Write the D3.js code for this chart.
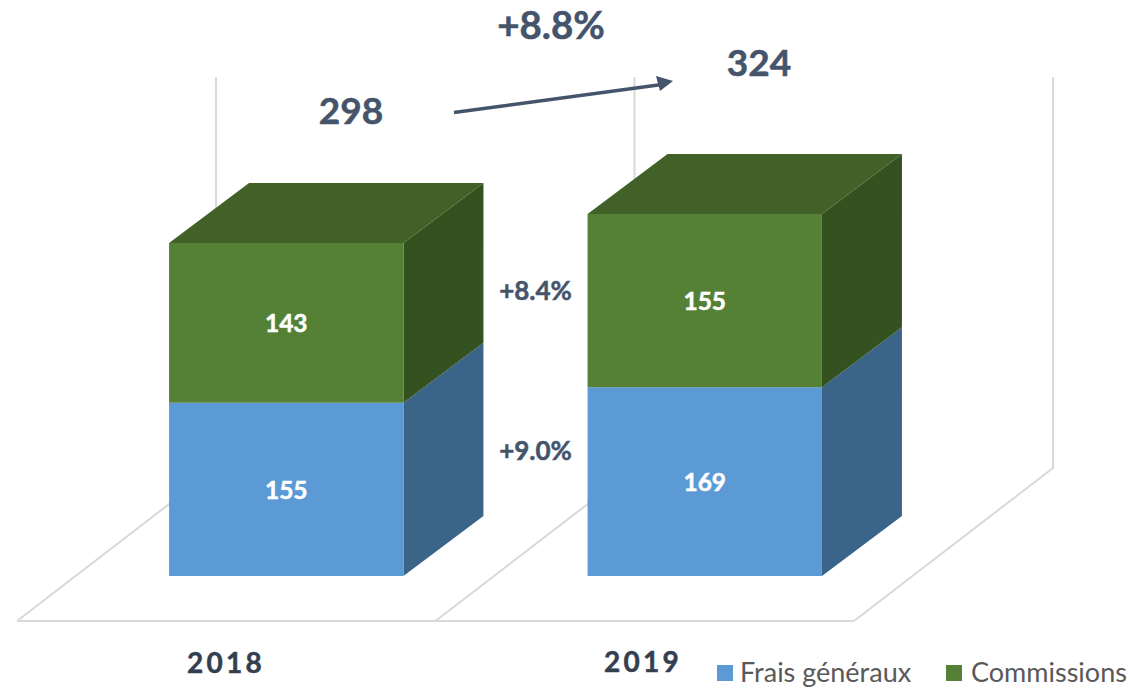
<!DOCTYPE html>
<html>
<head>
<meta charset="utf-8">
<script src="https://cdn.jsdelivr.net/npm/d3@7"></script>
<style>
  html, body { margin: 0; padding: 0; background: #fff; }
  text { font-family: Lato, "Open Sans", sans-serif; }
  .heavy { stroke-width: 0.5px; paint-order: stroke; }
</style>
</head>
<body>
<main></main>
<script>
const years = ["2018", "2019"],
  seriesNames = ["Frais généraux", "Commissions"],
  fraisGeneraux = [155, 169],
  commissions = [143, 155],
  totals = [298, 324],
  totalGrowth = "+8.8%",
  seriesGrowth = ["+9.0%", "+8.4%"];

const svgWidth = 1130,
  svgHeight = 688,
  depthX = 80,
  depthY = -60,
  wallDepthX = 199,
  wallDepthY = -153;

const blue = { front: "#5b9ad5", side: "#3a6488" },
  green = { front: "#548135", side: "#345120", top: "#426128" },
  navy = "#44546a",
  gridColor = "#d9d9d9";

// floor front edge goes from 17 to 854, bars stand 60px further back on the floor
const floorLeft = 17,
  floorRight = 854,
  barShift = 60;
const xFloor = d3.scaleBand().domain(years).range([floorLeft, floorRight]),
  xScale = d3.scaleBand().domain(years).range([floorLeft + barShift, floorRight + barShift]).paddingInner(0.44).paddingOuter(0.22),
  yScale = d3.scaleLinear().domain([0, 350]).range([576, 185]);

const svg = d3
  .select("main")
  .append("svg")
  .attr("width", svgWidth)
  .attr("height", svgHeight)
  .style("display", "block");

// grid: floor edges and back wall verticals
const gridX = [...years.map((y) => xFloor(y)), floorRight];
const floorY = 621,
  wallTop = 77;

const grid = svg.append("g").attr("fill", "none").attr("stroke", gridColor).attr("stroke-width", 2);
grid.append("line").attr("x1", floorLeft).attr("x2", floorRight).attr("y1", floorY).attr("y2", floorY);
gridX.forEach((x) => {
  grid
    .append("path")
    .attr("d", d3.line()([
      [x, floorY],
      [x + wallDepthX, floorY + wallDepthY],
      [x + wallDepthX, wallTop],
    ]));
});

function poly(points, color) {
  svg.append("polygon").attr("points", points.map((p) => p.join(",")).join(" ")).attr("fill", color);
}

function boldText(x, y, size, color, value) {
  return svg.append("text").attr("class", "heavy").attr("x", x).attr("y", y)
    .attr("text-anchor", "middle").attr("font-size", size).attr("font-weight", 700)
    .attr("fill", color).attr("stroke", color).text(value);
}

// one stacked 3d bar per year
years.forEach((year, i) => {
  const x0 = xScale(year),
    x1 = x0 + xScale.bandwidth();
  const y0 = yScale(0),
    yMid = yScale(fraisGeneraux[i]),
    yTop = yScale(fraisGeneraux[i] + commissions[i]);

  poly([[x1, y0], [x1 + depthX, y0 + depthY], [x1 + depthX, yMid + depthY], [x1, yMid]], blue.side);
  poly([[x1, yMid], [x1 + depthX, yMid + depthY], [x1 + depthX, yTop + depthY], [x1, yTop]], green.side);
  poly([[x0, yTop], [x0 + depthX, yTop + depthY], [x1 + depthX, yTop + depthY], [x1, yTop]], green.top);
  poly([[x0, y0], [x1, y0], [x1, yMid], [x0, yMid]], blue.front);
  poly([[x0, yMid], [x1, yMid], [x1, yTop], [x0, yTop]], green.front);

  const cx = (x0 + x1) / 2;
  boldText(cx, (y0 + yMid) / 2 + 9.5, 24.5, "#fff", fraisGeneraux[i]);
  boldText(cx, (yMid + yTop) / 2 + 9, 24.5, "#fff", commissions[i]);
});

// year labels sit off the band centres in the original
const yearLabelX = [226, 643],
  yearLabelY = [673, 672];
years.forEach((year, i) => {
  boldText(yearLabelX[i], yearLabelY[i], 28, "#333f50", year).attr("letter-spacing", 3.2);
});

// totals, arrow and growth figures
const totalX = [351, 759],
  totalY = [124, 76];
totals.forEach((t, i) => boldText(totalX[i], totalY[i], 37, navy, t));

boldText(551, 39, 38.5, navy, totalGrowth);

svg.append("line").attr("x1", 454).attr("y1", 112.5).attr("x2", 662).attr("y2", 84.5)
  .attr("stroke", navy).attr("stroke-width", 3.4);
svg.append("polygon").attr("points", "656,76 673,81 660,91").attr("fill", navy);

const growthY = [460, 300];
seriesGrowth.forEach((g, i) => boldText(535.5, growthY[i], 26, navy, g));

// legend
const legendX = [717, 946],
  legendTextX = [740, 971],
  legendColors = [blue.front, green.front];
seriesNames.forEach((name, i) => {
  svg.append("rect").attr("x", legendX[i]).attr("y", 665).attr("width", 16).attr("height", 16).attr("fill", legendColors[i]);
  svg.append("text").attr("x", legendTextX[i]).attr("y", 682)
    .attr("font-size", 27).attr("fill", "#595959").text(name);
});
</script>
</body>
</html>
